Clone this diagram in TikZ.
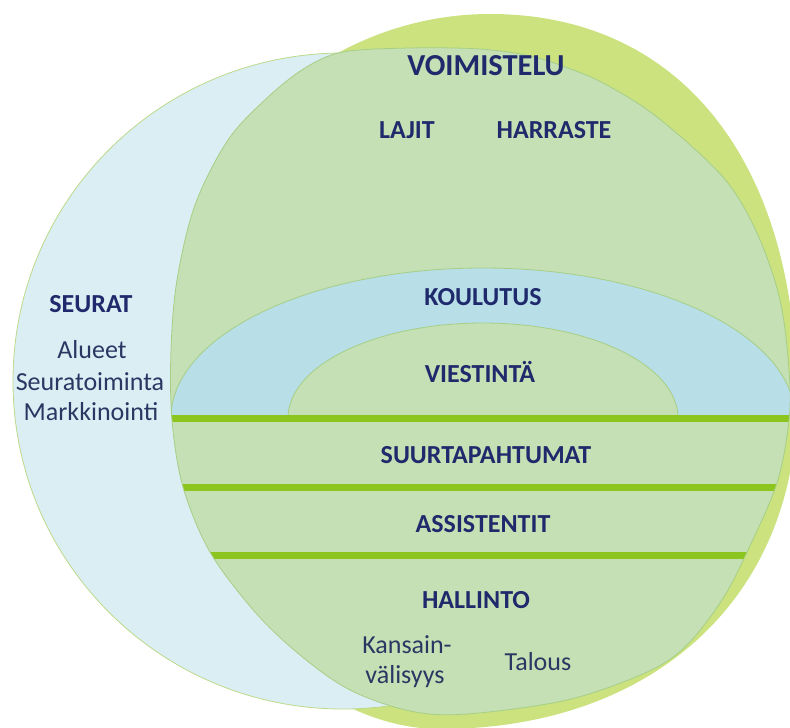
\documentclass[tikz,border=0pt]{standalone}
\usepackage{fontspec}
\setmainfont{Carlito}
\definecolor{ygreen}{HTML}{CBE27F}
\definecolor{lgreen}{HTML}{C5E0B4}
\definecolor{lblue}{HTML}{DBEEF3}
\definecolor{kblue}{HTML}{B8DEE7}
\definecolor{bandg}{HTML}{8CC51E}
\definecolor{edgeg}{HTML}{A6CF86}
\definecolor{sedge}{HTML}{BCD98A}
\definecolor{navyb}{HTML}{1F2A6C}
\definecolor{navyr}{HTML}{2A3763}
\tikzset{
  hd/.style={font=\fontsize{26}{31}\selectfont\bfseries, text=navyb, inner sep=0pt, anchor=base},
  tx/.style={font=\fontsize{26}{31}\selectfont, text=navyr, inner sep=0pt, anchor=base},
  band/.style={line width=7pt, draw=bandg},
  thinedge/.style={line width=0.8pt, draw=edgeg},
}
\def\lgpath{plot[smooth cycle, tension=0.55] coordinates {(343,52) (410,48) (480,49) (530,56) (568,68) (605,84) (657,117) (723,177) (757,233) (780,300) (789,370) (789,420) (777,483) (748,550) (722,600) (685,647) (645,673) (567,700) (467,714) (410,711) (350,690) (300,655) (255,612) (210,552) (183,487) (172,420) (171,350) (177,280) (195,205) (228,140) (267,98) (305,68)}}
\begin{document}
\begin{tikzpicture}[x=1pt,y=-1pt]
\useasboundingbox (0,0) rectangle (790,728);
\fill[white] (0,0) rectangle (790,728);
% VOIMISTELU outer shape
\fill[ygreen] (150,380) .. controls (150,179) and (303,14) .. (490,14)
  .. controls (680,14) and (797,161) .. (797,400)
  .. controls (797,597) and (654,729) .. (440,729)
  .. controls (295,729) and (150,554) .. (150,380) -- cycle;
% SEURAT ellipse
\fill[lblue, draw=sedge, line width=0.8pt] (343,381) ellipse [x radius=330pt, y radius=328pt];
% inner green shape
\fill[lgreen] \lgpath;
\begin{scope}
  \clip \lgpath;
  \fill[kblue, draw=edgeg, line width=0.8pt] (171,418) arc[start angle=180, end angle=0, x radius=312pt, y radius=150pt] -- cycle;
  \fill[lgreen, draw=edgeg, line width=0.8pt] (288,418) arc[start angle=180, end angle=0, x radius=195pt, y radius=95pt] -- cycle;
  \coordinate (l1a) at (150,418.5); \coordinate (l1b) at (800,418.5);
  \coordinate (l2a) at (150,487);   \coordinate (l2b) at (800,487);
  \coordinate (l3a) at (150,555);   \coordinate (l3b) at (800,555);
  \draw[band] (l1a) -- (l1b);
  \draw[band] (l2a) -- (l2b);
  \draw[band] (l3a) -- (l3b);
\end{scope}
\draw[thinedge] \lgpath;
% labels
\node[hd, font=\fontsize{30.5}{36}\selectfont\bfseries] (voim) at (486,75) {VOIMISTELU};
\node[hd] (lajit) at (407,138) {LAJIT};
\node[hd] (harr) at (554,138) {HARRASTE};
\node[hd] (seurat) at (91,312) {SEURAT};
\node[tx] (alueet) at (92,358) {Alueet};
\node[tx] (seurat2) at (90,390) {Seuratoiminta};
\node[tx] (markk) at (91,420) {Markkinointi};
\node[hd] (koul) at (483,305) {KOULUTUS};
\node[hd] (viest) at (480,382) {VIESTINTÄ};
\node[hd] (suur) at (486,463) {SUURTAPAHTUMAT};
\node[hd] (assis) at (483,532) {ASSISTENTIT};
\node[hd] (hall) at (476,608) {HALLINTO};
\node[tx] (kans1) at (407,653) {Kansain-};
\node[tx] (kans2) at (405,683) {välisyys};
\node[tx] (talous) at (538,670) {Talous};
\end{tikzpicture}
\end{document}
